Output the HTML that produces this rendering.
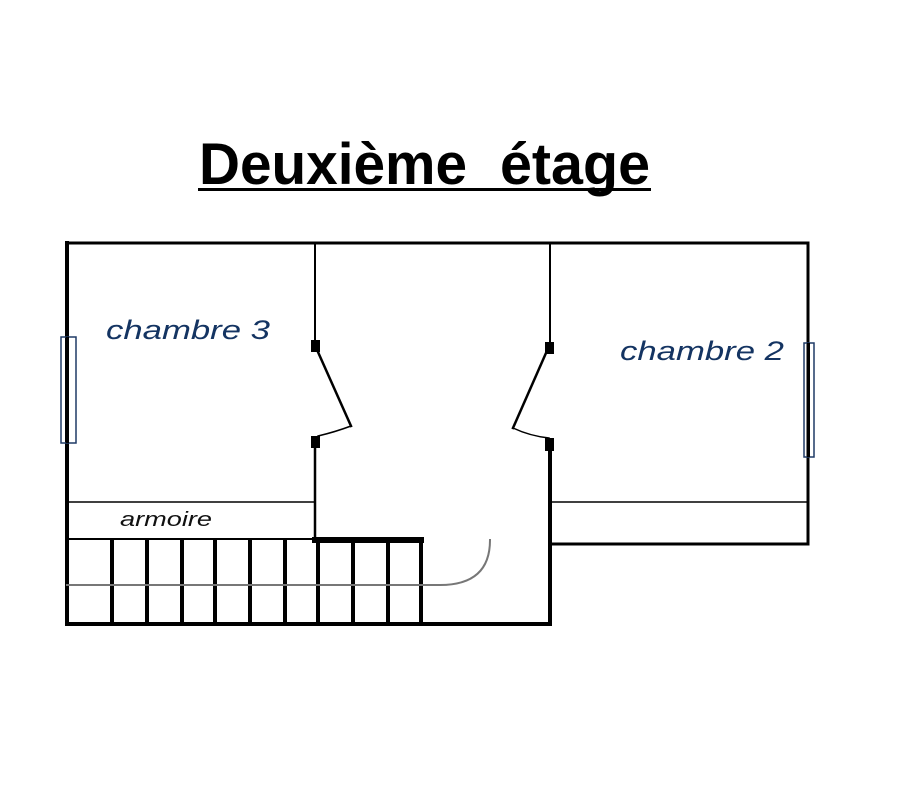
<!DOCTYPE html>
<html><head><meta charset="utf-8"><style>html,body{margin:0;padding:0;background:#fff;width:924px;height:800px;overflow:hidden}</style></head>
<body>
<svg width="924" height="800" viewBox="0 0 924 800" xmlns="http://www.w3.org/2000/svg">
<rect width="924" height="800" fill="#fff"/>
<g font-family="Liberation Sans, sans-serif" font-weight="bold" font-size="58" fill="#000">
<text x="199" y="184" textLength="268" lengthAdjust="spacingAndGlyphs">Deuxième</text>
<text x="500" y="184" textLength="150" lengthAdjust="spacingAndGlyphs">étage</text>
</g>
<rect x="198" y="188" width="453" height="3" fill="#000"/>
<g stroke="#000" fill="none" stroke-linecap="square">
<path d="M67 243 H808 V544 H550" stroke-width="3"/>
<path d="M67 243 V624 H550 V446" stroke-width="4"/>
<path d="M550 243 V348" stroke-width="2"/>
<path d="M315 243 V346" stroke-width="2"/>
<path d="M315 446 V538" stroke-width="2.5"/>
<path d="M550 502 H808" stroke-width="1.5"/>
<path d="M67 502 H315" stroke-width="1.5"/>
<path d="M67 539 H315" stroke-width="2"/>
<path d="M315 540 H421" stroke-width="6"/>
<path d="M421 540 V624" stroke-width="4"/>
<g stroke-width="4">
<path d="M112 540 V624 M147 540 V624 M182 540 V624 M215 540 V624 M250 540 V624 M285 540 V624 M318 540 V624 M353 540 V624 M388 540 V624"/>
</g>
<path d="M67 585 H440 Q490 585 490 540" stroke="#777" stroke-width="2"/>
<path d="M318 352 L351 426" stroke-width="2.5"/>
<path d="M351 426 Q335 432 318 436" stroke-width="1.5"/>
<path d="M546 353 L513 428" stroke-width="2.5"/>
<path d="M513 428 Q530 436 549 438" stroke-width="1.5"/>
</g>
<g fill="#000">
<rect x="311" y="340" width="9" height="12"/>
<rect x="311" y="436" width="9" height="12"/>
<rect x="545" y="342" width="9" height="12"/>
<rect x="545" y="438" width="9" height="13"/>
</g>
<g fill="none" stroke="#1f3a66" stroke-width="1.5">
<rect x="61" y="337" width="15" height="106"/>
<rect x="804" y="343" width="10" height="114"/>
</g>
<rect x="66" y="337" width="3" height="106" fill="#000"/>
<rect x="807" y="343" width="3" height="114" fill="#000"/>
<g font-family="Liberation Sans, sans-serif" font-style="italic" fill="#143462">
<text x="106" y="339" font-size="27" textLength="164" lengthAdjust="spacingAndGlyphs">chambre 3</text>
<text x="620" y="360" font-size="27" textLength="164" lengthAdjust="spacingAndGlyphs">chambre 2</text>
<text x="120" y="526" font-size="20" fill="#111" textLength="92" lengthAdjust="spacingAndGlyphs">armoire</text>
</g>
</svg>
</body></html>
